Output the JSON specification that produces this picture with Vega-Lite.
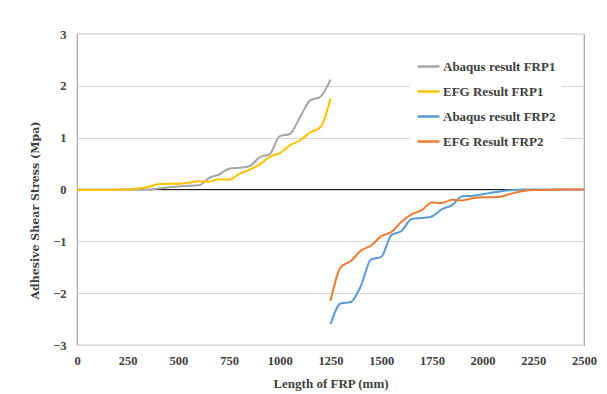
{
  "$schema": "https://vega.github.io/schema/vega-lite/v6.json",
  "width": 507,
  "height": 311,
  "autosize": {"type": "none"},
  "padding": {"left": 77, "top": 34, "right": 23, "bottom": 49},
  "background": "white",
  "config": {
    "view": {"stroke": "#a6a6a6", "strokeWidth": 1.2},
    "font": "'Liberation Serif', 'Times New Roman', 'DejaVu Serif', serif"
  },
  "data": {
    "values": [
      {"x": 0, "y": 0, "s": "Abaqus result FRP1"},
      {"x": 100, "y": 0, "s": "Abaqus result FRP1"},
      {"x": 200, "y": 0, "s": "Abaqus result FRP1"},
      {"x": 300, "y": 0, "s": "Abaqus result FRP1"},
      {"x": 350, "y": 0.0, "s": "Abaqus result FRP1"},
      {"x": 400, "y": 0.02, "s": "Abaqus result FRP1"},
      {"x": 450, "y": 0.04, "s": "Abaqus result FRP1"},
      {"x": 500, "y": 0.06, "s": "Abaqus result FRP1"},
      {"x": 550, "y": 0.07, "s": "Abaqus result FRP1"},
      {"x": 600, "y": 0.08, "s": "Abaqus result FRP1"},
      {"x": 650, "y": 0.22, "s": "Abaqus result FRP1"},
      {"x": 700, "y": 0.29, "s": "Abaqus result FRP1"},
      {"x": 750, "y": 0.4, "s": "Abaqus result FRP1"},
      {"x": 800, "y": 0.42, "s": "Abaqus result FRP1"},
      {"x": 850, "y": 0.45, "s": "Abaqus result FRP1"},
      {"x": 900, "y": 0.62, "s": "Abaqus result FRP1"},
      {"x": 950, "y": 0.68, "s": "Abaqus result FRP1"},
      {"x": 1000, "y": 1.03, "s": "Abaqus result FRP1"},
      {"x": 1050, "y": 1.07, "s": "Abaqus result FRP1"},
      {"x": 1100, "y": 1.4, "s": "Abaqus result FRP1"},
      {"x": 1150, "y": 1.72, "s": "Abaqus result FRP1"},
      {"x": 1200, "y": 1.79, "s": "Abaqus result FRP1"},
      {"x": 1250, "y": 2.12, "s": "Abaqus result FRP1"},

      {"x": 0, "y": -0.01, "s": "EFG Result FRP1"},
      {"x": 100, "y": -0.01, "s": "EFG Result FRP1"},
      {"x": 200, "y": -0.005, "s": "EFG Result FRP1"},
      {"x": 250, "y": 0.0, "s": "EFG Result FRP1"},
      {"x": 300, "y": 0.02, "s": "EFG Result FRP1"},
      {"x": 350, "y": 0.05, "s": "EFG Result FRP1"},
      {"x": 400, "y": 0.1, "s": "EFG Result FRP1"},
      {"x": 450, "y": 0.11, "s": "EFG Result FRP1"},
      {"x": 500, "y": 0.11, "s": "EFG Result FRP1"},
      {"x": 550, "y": 0.13, "s": "EFG Result FRP1"},
      {"x": 600, "y": 0.16, "s": "EFG Result FRP1"},
      {"x": 650, "y": 0.15, "s": "EFG Result FRP1"},
      {"x": 700, "y": 0.2, "s": "EFG Result FRP1"},
      {"x": 750, "y": 0.19, "s": "EFG Result FRP1"},
      {"x": 800, "y": 0.3, "s": "EFG Result FRP1"},
      {"x": 850, "y": 0.38, "s": "EFG Result FRP1"},
      {"x": 900, "y": 0.48, "s": "EFG Result FRP1"},
      {"x": 950, "y": 0.63, "s": "EFG Result FRP1"},
      {"x": 1000, "y": 0.7, "s": "EFG Result FRP1"},
      {"x": 1050, "y": 0.85, "s": "EFG Result FRP1"},
      {"x": 1100, "y": 0.95, "s": "EFG Result FRP1"},
      {"x": 1150, "y": 1.1, "s": "EFG Result FRP1"},
      {"x": 1200, "y": 1.2, "s": "EFG Result FRP1"},
      {"x": 1250, "y": 1.75, "s": "EFG Result FRP1"},

      {"x": 1250, "y": -2.6, "s": "Abaqus result FRP2"},
      {"x": 1300, "y": -2.2, "s": "Abaqus result FRP2"},
      {"x": 1350, "y": -2.17, "s": "Abaqus result FRP2"},
      {"x": 1400, "y": -1.86, "s": "Abaqus result FRP2"},
      {"x": 1450, "y": -1.35, "s": "Abaqus result FRP2"},
      {"x": 1500, "y": -1.3, "s": "Abaqus result FRP2"},
      {"x": 1550, "y": -0.88, "s": "Abaqus result FRP2"},
      {"x": 1600, "y": -0.8, "s": "Abaqus result FRP2"},
      {"x": 1650, "y": -0.57, "s": "Abaqus result FRP2"},
      {"x": 1700, "y": -0.55, "s": "Abaqus result FRP2"},
      {"x": 1750, "y": -0.52, "s": "Abaqus result FRP2"},
      {"x": 1800, "y": -0.38, "s": "Abaqus result FRP2"},
      {"x": 1850, "y": -0.3, "s": "Abaqus result FRP2"},
      {"x": 1900, "y": -0.13, "s": "Abaqus result FRP2"},
      {"x": 1950, "y": -0.12, "s": "Abaqus result FRP2"},
      {"x": 2000, "y": -0.09, "s": "Abaqus result FRP2"},
      {"x": 2050, "y": -0.06, "s": "Abaqus result FRP2"},
      {"x": 2100, "y": -0.03, "s": "Abaqus result FRP2"},
      {"x": 2150, "y": -0.01, "s": "Abaqus result FRP2"},
      {"x": 2200, "y": 0.0, "s": "Abaqus result FRP2"},
      {"x": 2300, "y": 0.0, "s": "Abaqus result FRP2"},
      {"x": 2400, "y": 0.0, "s": "Abaqus result FRP2"},
      {"x": 2500, "y": 0.0, "s": "Abaqus result FRP2"},

      {"x": 1250, "y": -2.15, "s": "EFG Result FRP2"},
      {"x": 1300, "y": -1.5, "s": "EFG Result FRP2"},
      {"x": 1350, "y": -1.38, "s": "EFG Result FRP2"},
      {"x": 1400, "y": -1.18, "s": "EFG Result FRP2"},
      {"x": 1450, "y": -1.08, "s": "EFG Result FRP2"},
      {"x": 1500, "y": -0.9, "s": "EFG Result FRP2"},
      {"x": 1550, "y": -0.82, "s": "EFG Result FRP2"},
      {"x": 1600, "y": -0.62, "s": "EFG Result FRP2"},
      {"x": 1650, "y": -0.48, "s": "EFG Result FRP2"},
      {"x": 1700, "y": -0.4, "s": "EFG Result FRP2"},
      {"x": 1750, "y": -0.25, "s": "EFG Result FRP2"},
      {"x": 1800, "y": -0.26, "s": "EFG Result FRP2"},
      {"x": 1850, "y": -0.2, "s": "EFG Result FRP2"},
      {"x": 1900, "y": -0.21, "s": "EFG Result FRP2"},
      {"x": 1950, "y": -0.17, "s": "EFG Result FRP2"},
      {"x": 2000, "y": -0.15, "s": "EFG Result FRP2"},
      {"x": 2050, "y": -0.15, "s": "EFG Result FRP2"},
      {"x": 2100, "y": -0.13, "s": "EFG Result FRP2"},
      {"x": 2150, "y": -0.07, "s": "EFG Result FRP2"},
      {"x": 2200, "y": -0.03, "s": "EFG Result FRP2"},
      {"x": 2250, "y": -0.01, "s": "EFG Result FRP2"},
      {"x": 2300, "y": -0.01, "s": "EFG Result FRP2"},
      {"x": 2400, "y": 0.0, "s": "EFG Result FRP2"},
      {"x": 2500, "y": 0.0, "s": "EFG Result FRP2"}
    ]
  },
  "layer": [
    {
      "mark": {"type": "rule", "color": "#1a1a1a", "strokeWidth": 1.2},
      "encoding": {"y": {"datum": 0, "type": "quantitative"}}
    },
    {
      "mark": {"type": "line", "interpolate": "monotone", "strokeWidth": 2},
      "encoding": {
        "x": {
          "field": "x", "type": "quantitative",
          "scale": {"domain": [0, 2500], "nice": false},
          "axis": {
            "values": [0, 250, 500, 750, 1000, 1250, 1500, 1750, 2000, 2250, 2500],
            "format": "d",
            "labelFlush": false,
            "grid": false, "ticks": false, "domain": false,
            "labelFont": "'Liberation Serif', 'Times New Roman', 'DejaVu Serif', serif", "labelFontWeight": "bold", "labelFontSize": 12.5,
            "labelColor": "#404040", "labelPadding": 9,
            "title": "Length of FRP  (mm)",
            "titleFont": "'Liberation Serif', 'Times New Roman', 'DejaVu Serif', serif", "titleFontWeight": "bold", "titleFontSize": 13,
            "titleColor": "#404040", "titlePadding": 11
          }
        },
        "y": {
          "field": "y", "type": "quantitative",
          "scale": {"domain": [-3, 3], "nice": false},
          "axis": {
            "values": [-3, -2, -1, 0, 1, 2, 3],
            "grid": true, "gridColor": "#d9d9d9", "gridWidth": 1,
            "ticks": false, "domain": false,
            "labelFont": "'Liberation Serif', 'Times New Roman', 'DejaVu Serif', serif", "labelFontWeight": "bold", "labelFontSize": 12.5,
            "labelColor": "#404040", "labelPadding": 11,
            "title": "Adhesive Shear Stress (Mpa)",
            "titleFont": "'DejaVu Serif', serif", "titleFontWeight": "bold", "titleFontSize": 11,
            "titleColor": "#404040",
            "titleX": -42, "titleY": 176, "titleAngle": -90,
            "titleAlign": "center", "titleBaseline": "middle"
          }
        },
        "color": {
          "field": "s", "type": "nominal",
          "scale": {
            "domain": ["Abaqus result FRP1", "EFG Result FRP1", "Abaqus result FRP2", "EFG Result FRP2"],
            "range": ["#a5a5a5", "#ffc000", "#5b9bd5", "#ed7d31"]
          },
          "legend": {
            "title": null,
            "orient": "none",
            "legendX": 333,
            "legendY": 14,
            "fillColor": "white",
            "padding": 6,
            "symbolType": "stroke",
            "symbolSize": 484,
            "symbolStrokeWidth": 2.5,
            "labelFont": "'Liberation Serif', 'Times New Roman', 'DejaVu Serif', serif", "labelFontWeight": "bold", "labelFontSize": 13,
            "labelColor": "#404040",
            "labelOffset": 2,
            "rowPadding": 5
          }
        },
        "order": {"field": "x", "type": "quantitative"}
      }
    }
  ]
}
